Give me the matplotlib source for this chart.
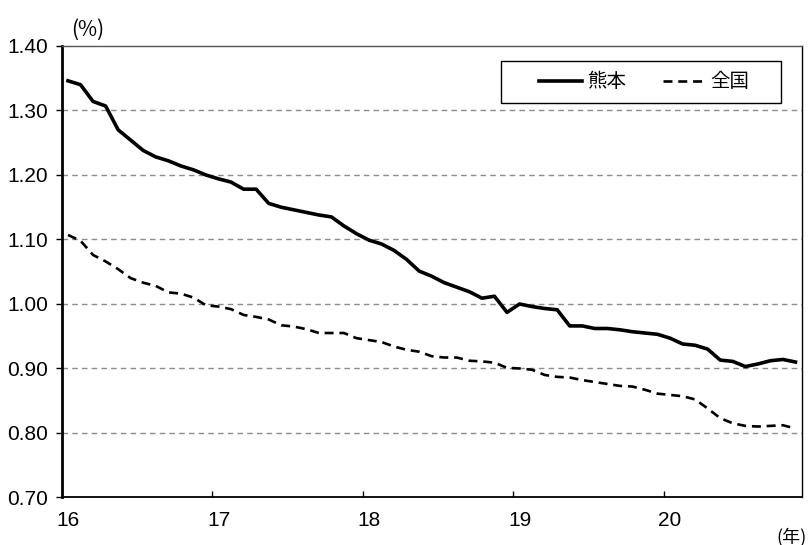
import numpy as np
import matplotlib
matplotlib.use("Agg")
import matplotlib.pyplot as plt
from matplotlib.patches import Rectangle

plt.rcParams['font.family'] = ['Noto Sans CJK JP', 'DejaVu Sans']

# monthly values, Jan 2016 - Nov 2020
kumamoto = [
    1.346, 1.340, 1.314, 1.307, 1.270, 1.254, 1.238, 1.228, 1.222, 1.214,
    1.208, 1.200, 1.194, 1.189, 1.178, 1.178, 1.156, 1.150, 1.146, 1.142,
    1.138, 1.135, 1.121, 1.109, 1.099, 1.093, 1.083, 1.069, 1.051, 1.043,
    1.033, 1.026, 1.019, 1.009, 1.012, 0.987, 1.000, 0.996, 0.993, 0.991,
    0.966, 0.966, 0.962, 0.962, 0.960, 0.957, 0.955, 0.953, 0.947, 0.938,
    0.936, 0.930, 0.913, 0.911, 0.903, 0.907, 0.912, 0.914, 0.910,
]
zenkoku = [
    1.107, 1.098, 1.076, 1.066, 1.054, 1.040, 1.033, 1.028, 1.018, 1.016,
    1.010, 0.998, 0.996, 0.992, 0.983, 0.980, 0.976, 0.967, 0.965, 0.961,
    0.955, 0.955, 0.955, 0.947, 0.944, 0.941, 0.934, 0.929, 0.926, 0.919,
    0.917, 0.917, 0.912, 0.911, 0.909, 0.901, 0.900, 0.898, 0.890, 0.887,
    0.886, 0.882, 0.879, 0.876, 0.873, 0.872, 0.867, 0.861, 0.859, 0.857,
    0.852, 0.838, 0.823, 0.815, 0.811, 0.810, 0.811, 0.812, 0.807,
]
year_labels = ["16", "17", "18", "19", "20"]
y_ticks = [0.70, 0.80, 0.90, 1.00, 1.10, 1.20, 1.30, 1.40]

num_font = ['Liberation Sans', 'DejaVu Sans']

fig = plt.figure(figsize=(8.11, 5.45), dpi=100)
ax = fig.add_axes([0.0761, 0.0872, 0.9125, 0.8284])

x = np.arange(len(kumamoto))
ax.plot(x, kumamoto, color="black", linewidth=2.6, label="熊本",
        solid_joinstyle="round", zorder=3)
ax.plot(x, zenkoku, color="black", linewidth=1.9, linestyle=(0, (3.4, 2.2)),
        label="全国", zorder=3)

ax.set_xlim(-0.5, len(x) - 0.5)
ax.set_ylim(0.70, 1.40)

# y axis
ax.set_yticks(y_ticks)
ax.set_yticklabels([f"{v:.2f}" for v in y_ticks], family=num_font, fontsize=15)
ax.tick_params(axis="y", direction="out", length=4, width=1, pad=6)
for v in y_ticks[1:-1]:
    ax.axhline(v, color="#8c8c8c", linewidth=1, linestyle=(0, (4, 3)), zorder=1)

# x axis: tick marks between years, labels on January
ax.set_xticks(np.arange(11.5, len(x) - 1, 12))
ax.set_xticklabels([])
ax.tick_params(axis="x", which="major", direction="in", length=4, width=1)
ax.set_xticks(np.arange(0, len(x), 12), minor=True)
ax.set_xticklabels(year_labels, minor=True, family=num_font, fontsize=15)
ax.tick_params(axis="x", which="minor", length=0, pad=10)

ax.spines["left"].set_linewidth(2)
ax.spines["bottom"].set_linewidth(1.3)
ax.spines["right"].set_linewidth(1)
ax.spines["top"].set_linewidth(1)
ax.spines["top"].set_color("#555555")

# legend with a plain rectangular frame
ax.add_patch(Rectangle((0.593, 0.874), 0.379, 0.093, transform=ax.transAxes,
                       fill=True, facecolor="white", edgecolor="black",
                       linewidth=1, zorder=4))
leg = ax.legend(loc="center", bbox_to_anchor=(0.7876, 0.9205), ncol=2,
                frameon=False, fontsize=14, handlelength=2.2,
                handletextpad=0.25, columnspacing=1.9)
leg.set_zorder(5)

fig.text(0.108, 0.945, "(%)", fontsize=15, ha="center", va="center")
fig.text(0.995, 0.015, "(年)", fontsize=13, ha="right", va="center")

fig.savefig("out.png", dpi=100)
